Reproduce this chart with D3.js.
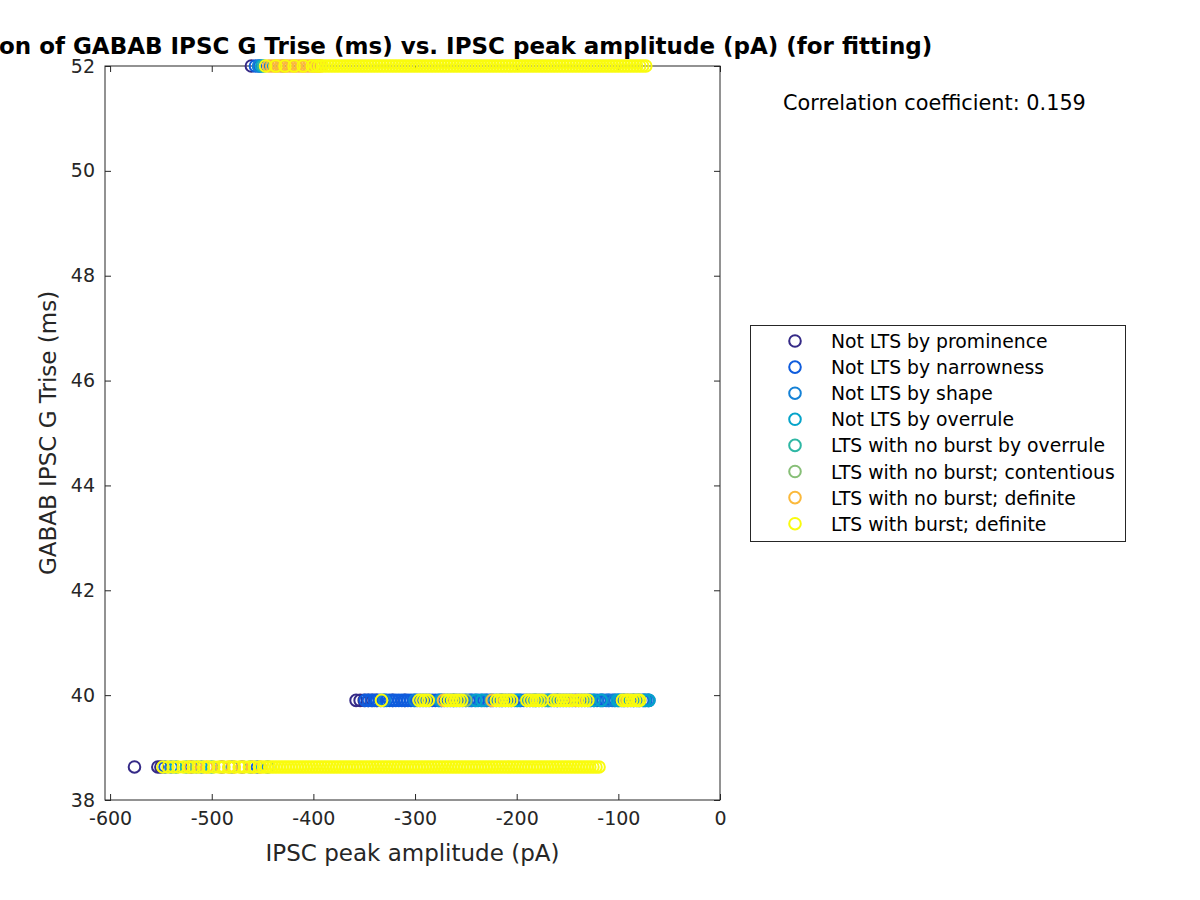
<!DOCTYPE html>
<html>
<head>
<meta charset="utf-8">
<style>
  body { margin: 0; background: #fff; }
  text { font-family: "DejaVu Sans", sans-serif; fill: #262626; }
</style>
</head>
<body>
<script src="https://cdn.jsdelivr.net/npm/d3@7"></script>
<script>
// categories in drawing order (last drawn on top)
var categories = [
  'Not LTS by prominence',
  'Not LTS by narrowness',
  'Not LTS by shape',
  'Not LTS by overrule',
  'LTS with no burst by overrule',
  'LTS with no burst; contentious',
  'LTS with no burst; definite',
  'LTS with burst; definite'
];
var colors = ['#352a87', '#0f5cdd', '#1481d6', '#06a4ca', '#2eb7a4', '#87bf77', '#fbb93c', '#f9fb0e'];

// the three GABAB Trise levels (ms)
var rowY = [52, 39.9, 38.63];

// IPSC peak amplitudes (pA) per category, per row [top, middle, bottom]
var prominenceX = [
  [-461],
  [-358, -354, -350, -346, -342, -338, -322, -310],
  [-576, -553, -550]
];
var narrownessX = [
  [-457, -453],
  [-349, -346, -343, -340, -337, -334, -331, -328, -325, -322, -319, -316, -313, -310, -307, -304,
   -301, -298, -295, -292, -289, -286, -283, -280, -277, -274, -271, -268, -265, -262, -259, -256,
   -253, -250, -247, -244, -241, -238, -235, -232, -229, -226, -223, -220, -217, -214, -211, -208,
   -205, -202, -199, -196, -193, -190, -187, -184, -181, -178, -175, -172, -169, -166, -163, -160,
   -157, -154, -151, -148, -145, -142, -139, -136, -133, -130, -127, -124, -121, -118, -115, -112,
   -109, -106, -103, -100, -97, -94, -91, -88, -85, -82, -79, -76, -73, -70],
  [-546, -520, -490, -470, -455]
];
var shapeX = [
  [-454],
  [-330, -300, -276, -262, -245, -230, -215, -197, -168, -160, -128, -116, -110, -104, -95, -85, -75, -71],
  [-540, -510, -480, -445]
];
var overruleX = [
  [-451],
  [-274, -240, -234, -200, -182, -124, -117, -101, -99, -80, -74, -70],
  [-535, -500, -462]
];
var noBurstOverruleX = [
  [-449],
  [-225, -170],
  [-525]
];
var contentiousX = [
  [-430],
  [-250],
  [-515]
];
var noBurstDefiniteX = [
  [-444, -441, -438, -435, -432, -429, -426, -423, -420, -417, -414, -411, -408, -405, -402, -399, -396, -393],
  [-272, -224, -142, -91],
  [-521, -505, -490, -483, -478, -470, -460, -452]
];
var burstDefiniteX = [
  [-447, -437, -428, -419, -410, -401, -397, -394, -391, -388, -385, -382, -379, -376, -373, -370,
   -367, -364, -361, -358, -355, -352, -349, -346, -343, -340, -337, -334, -331, -328, -325, -322,
   -319, -316, -313, -310, -307, -304, -301, -298, -295, -292, -289, -286, -283, -280, -277, -274,
   -271, -268, -265, -262, -259, -256, -253, -250, -247, -244, -241, -238, -235, -232, -229, -226,
   -223, -220, -217, -214, -211, -208, -205, -202, -199, -196, -193, -190, -187, -184, -181, -178,
   -175, -172, -169, -166, -163, -160, -157, -154, -151, -148, -145, -142, -139, -136, -133, -130,
   -127, -124, -121, -118, -115, -112, -109, -106, -103, -100, -97, -94, -91, -88, -85, -82, -79,
   -76, -73],
  [-333, -296, -293, -290, -287, -269, -266, -263, -260, -257, -254, -220, -217, -214, -211, -208,
   -205, -190, -187, -184, -181, -178, -175, -164, -161, -158, -155, -152, -149, -146, -139, -136,
   -133, -130, -96, -93, -90, -87, -84, -81, -79],
  [-548, -543, -538, -533, -528, -523, -518, -513, -508, -503, -498, -493, -488, -483, -478, -473,
   -468, -463, -458, -453, -449, -446, -443, -440, -437, -434, -431, -428, -425, -422, -419, -416,
   -413, -410, -407, -404, -401, -398, -395, -392, -389, -386, -383, -380, -377, -374, -371, -368,
   -365, -362, -359, -356, -353, -350, -347, -344, -341, -338, -335, -332, -329, -326, -323, -320,
   -317, -314, -311, -308, -305, -302, -299, -296, -293, -290, -287, -284, -281, -278, -275, -272,
   -269, -266, -263, -260, -257, -254, -251, -248, -245, -242, -239, -236, -233, -230, -227, -224,
   -221, -218, -215, -212, -209, -206, -203, -200, -197, -194, -191, -188, -185, -182, -179, -176,
   -173, -170, -167, -164, -161, -158, -155, -152, -149, -146, -143, -140, -137, -134, -131, -128,
   -125, -122, -119]
];
var seriesX = [prominenceX, narrownessX, shapeX, overruleX, noBurstOverruleX,
               contentiousX, noBurstDefiniteX, burstDefiniteX];

var xTicks = [-600, -500, -400, -300, -200, -100, 0];
var yTicks = [38, 40, 42, 44, 46, 48, 50, 52];
var corrText = 'Correlation coefficient: 0.159';

var width = 1200, height = 900;
var plotL = 105, plotR = 720, plotT = 66, plotB = 800;

var svg = d3.select('body').append('svg')
    .attr('width', width)
    .attr('height', height);

var x = d3.scaleLinear().domain([-605, 0]).range([plotL, plotR]);
var y = d3.scaleLinear().domain([38, 52]).range([plotB, plotT]);

// plain hyphen for negatives, like the original
var fmt = function(d) { return String(d); };

// axes box with inward ticks on all sides
var tickLen = 6;
svg.append('rect')
    .attr('x', plotL).attr('y', plotT)
    .attr('width', plotR - plotL).attr('height', plotB - plotT)
    .attr('fill', 'none').attr('stroke', '#262626').attr('stroke-width', 1);

var xAxis = svg.append('g')
    .attr('transform', 'translate(0,' + plotB + ')')
    .call(d3.axisBottom(x).tickValues(xTicks).tickSize(-tickLen).tickPadding(12).tickFormat(fmt));
var xAxisTop = svg.append('g')
    .attr('transform', 'translate(0,' + plotT + ')')
    .call(d3.axisTop(x).tickValues(xTicks).tickSize(-tickLen).tickFormat(''));
var yAxis = svg.append('g')
    .attr('transform', 'translate(' + plotL + ',0)')
    .call(d3.axisLeft(y).tickValues(yTicks).tickSize(-tickLen).tickPadding(10).tickFormat(fmt));
var yAxisRight = svg.append('g')
    .attr('transform', 'translate(' + plotR + ',0)')
    .call(d3.axisRight(y).tickValues(yTicks).tickSize(-tickLen).tickFormat(''));

[xAxis, xAxisTop, yAxis, yAxisRight].forEach(function(g) {
  g.select('.domain').remove();
  g.selectAll('.tick line').attr('stroke', '#262626');
  g.selectAll('.tick text')
      .style('font-family', '"DejaVu Sans", sans-serif')
      .style('font-size', '19px')
      .attr('fill', '#262626');
});

// markers
seriesX.forEach(function(rows, ci) {
  var pts = [];
  rows.forEach(function(xs, ri) {
    xs.forEach(function(v) { pts.push({x: v, y: rowY[ri]}); });
  });
  svg.append('g').selectAll('circle')
      .data(pts)
    .enter().append('circle')
      .attr('cx', function(d) { return x(d.x); })
      .attr('cy', function(d) { return y(d.y); })
      .attr('r', 5.8)
      .attr('fill', 'none')
      .attr('stroke', colors[ci])
      .attr('stroke-width', 2);
});

// title and labels
svg.append('text')
    .attr('x', 409).attr('y', 54)
    .attr('text-anchor', 'middle')
    .style('font-size', '23px').style('font-weight', 'bold')
    .style('fill', '#000')
    .text('Correlation of GABAB IPSC G Trise (ms) vs. IPSC peak amplitude (pA) (for fitting)');

svg.append('text')
    .attr('x', (plotL + plotR) / 2).attr('y', 861)
    .attr('text-anchor', 'middle')
    .style('font-size', '23px')
    .text('IPSC peak amplitude (pA)');

svg.append('text')
    .attr('transform', 'translate(56,' + ((plotT + plotB) / 2) + ') rotate(-90)')
    .attr('text-anchor', 'middle')
    .style('font-size', '23px')
    .text('GABAB IPSC G Trise (ms)');

svg.append('text')
    .attr('x', 783).attr('y', 110)
    .style('font-size', '20.8px')
    .style('fill', '#000')
    .text(corrText);

// legend
var legend = svg.append('g');
legend.append('rect')
    .attr('x', 750.5).attr('y', 325.5)
    .attr('width', 375).attr('height', 216)
    .attr('fill', '#fff').attr('stroke', '#262626').attr('stroke-width', 1);

var item = legend.selectAll('g.item')
    .data(categories)
  .enter().append('g')
    .attr('class', 'item')
    .attr('transform', function(d, i) { return 'translate(0,' + (341 + i * 26.1) + ')'; });
item.append('circle')
    .attr('cx', 795).attr('cy', 0).attr('r', 5.8)
    .attr('fill', 'none')
    .attr('stroke', function(d, i) { return colors[i]; })
    .attr('stroke-width', 2);
item.append('text')
    .attr('x', 831).attr('y', 7)
    .style('font-size', '18.8px')
    .style('fill', '#000')
    .text(function(d) { return d; });
</script>
</body>
</html>
